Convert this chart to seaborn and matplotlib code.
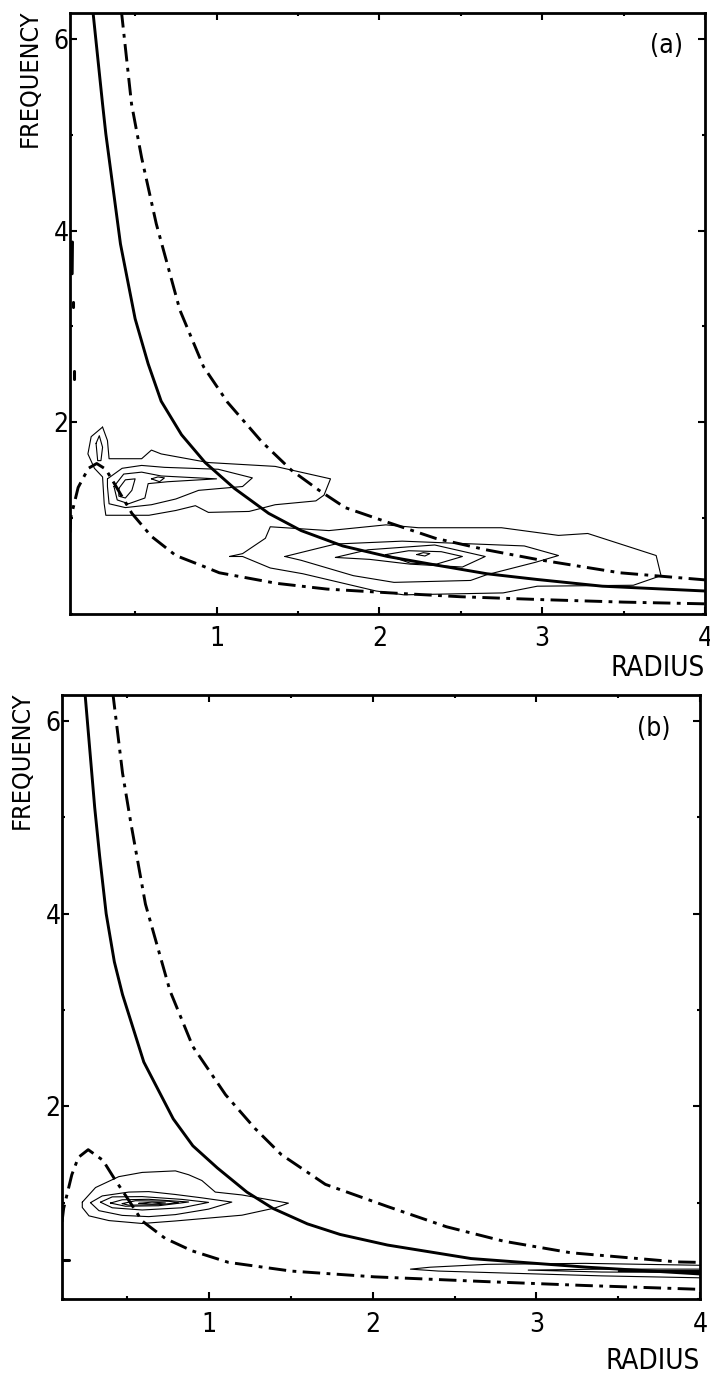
import matplotlib
matplotlib.use("Agg")
import matplotlib.pyplot as plt
from matplotlib import font_manager
from matplotlib.ticker import MultipleLocator
import seaborn as sns
import pandas as pd

# ---- panel (a) curves (radius, frequency) ----
a_solid_r = [0.24, 0.30, 0.32, 0.41, 0.50, 0.58, 0.66, 0.785, 0.93, 1.11, 1.32, 1.52, 1.775, 2.05, 2.35, 2.66, 2.97, 3.37, 4.0]
a_solid_f = [6.3, 5.32, 5.01, 3.86, 3.08, 2.61, 2.22, 1.87, 1.58, 1.31, 1.05, 0.87, 0.71, 0.60, 0.51, 0.42, 0.36, 0.29, 0.24]
a_upper_r = [0.415, 0.478, 0.54, 0.63, 0.775, 0.92, 1.067, 1.276, 1.46, 1.63, 1.79, 2.063, 2.344, 2.655, 2.966, 3.477, 4.0]
a_upper_f = [6.3, 5.32, 4.76, 4.07, 3.17, 2.58, 2.21, 1.80, 1.50, 1.29, 1.11, 0.95, 0.79, 0.67, 0.57, 0.43, 0.356]
a_lower_r = [0.10, 0.104, 0.15, 0.213, 0.264, 0.32, 0.39, 0.48, 0.60, 0.75, 0.916, 1.017, 1.368, 1.678, 2.07, 2.5, 3.0, 3.5, 4.0]
a_lower_f = [0.85, 1.0, 1.32, 1.52, 1.57, 1.51, 1.31, 1.05, 0.81, 0.61, 0.50, 0.43, 0.32, 0.26, 0.22, 0.18, 0.15, 0.124, 0.106]
# stray ink marks along the left axis
a_marks = [[(0.115, 3.88), (0.113, 3.55)], [(0.12, 3.26), (0.12, 3.20)], [(0.125, 2.53), (0.125, 2.45)]]

a_contours = [
    # left group
    [(0.30, 1.95), (0.33, 1.81), (0.34, 1.62), (0.54, 1.62), (0.60, 1.71), (0.66, 1.67), (0.95, 1.58),
     (1.36, 1.54), (1.70, 1.41), (1.66, 1.24), (1.61, 1.18), (1.36, 1.14), (1.20, 1.07), (0.95, 1.06),
     (0.87, 1.13), (0.75, 1.08), (0.585, 1.03), (0.32, 1.03), (0.31, 1.15), (0.30, 1.43), (0.25, 1.52),
     (0.21, 1.67), (0.23, 1.85), (0.30, 1.95)],
    [(0.33, 1.41), (0.42, 1.52), (0.54, 1.55), (0.68, 1.53), (1.01, 1.51), (1.22, 1.42), (1.16, 1.33),
     (0.89, 1.29), (0.75, 1.20), (0.60, 1.14), (0.44, 1.11), (0.34, 1.15), (0.33, 1.33), (0.33, 1.41)],
    [(0.37, 1.33), (0.43, 1.46), (0.54, 1.48), (0.66, 1.44), (1.0, 1.41), (0.70, 1.38), (0.58, 1.36),
     (0.56, 1.21), (0.46, 1.15), (0.39, 1.19), (0.37, 1.33)],
    [(0.40, 1.31), (0.44, 1.40), (0.50, 1.41), (0.48, 1.29), (0.44, 1.21), (0.40, 1.23), (0.40, 1.31)],
    [(0.60, 1.41), (0.64, 1.43), (0.68, 1.42), (0.65, 1.38), (0.60, 1.41)],
    [(0.26, 1.78), (0.28, 1.86), (0.30, 1.74), (0.29, 1.60), (0.27, 1.60), (0.26, 1.78)],
    # right group
    [(1.08, 0.60), (1.16, 0.63), (1.30, 0.79), (1.33, 0.91), (1.69, 0.87), (2.04, 0.93), (2.24, 0.90),
     (2.75, 0.90), (3.10, 0.82), (3.28, 0.84), (3.70, 0.61), (3.73, 0.40), (3.56, 0.30), (2.97, 0.29),
     (2.76, 0.22), (2.15, 0.20), (1.98, 0.24), (1.53, 0.42), (1.33, 0.48), (1.16, 0.60), (1.08, 0.60)],
    [(1.42, 0.60), (1.73, 0.73), (2.14, 0.76), (2.89, 0.71), (3.10, 0.61), (2.96, 0.54), (2.66, 0.41),
     (2.56, 0.35), (2.09, 0.33), (1.84, 0.40), (1.52, 0.56), (1.42, 0.60)],
    [(1.73, 0.59), (1.93, 0.67), (2.34, 0.72), (2.65, 0.60), (2.51, 0.49), (2.19, 0.52), (1.94, 0.57), (1.73, 0.59)],
    [(2.04, 0.62), (2.18, 0.66), (2.38, 0.65), (2.51, 0.60), (2.35, 0.52), (2.19, 0.53), (2.04, 0.62)],
    [(2.23, 0.62), (2.27, 0.64), (2.31, 0.63), (2.28, 0.605), (2.23, 0.62)],
]

# ---- panel (b) ----
b_solid_r = [0.24, 0.27, 0.30, 0.33, 0.37, 0.42, 0.47, 0.60, 0.78, 0.90, 1.05, 1.23, 1.39, 1.60, 1.80, 2.09, 2.6, 3.31, 4.0]
b_solid_f = [6.3, 5.7, 5.1, 4.6, 4.0, 3.5, 3.16, 2.46, 1.87, 1.59, 1.36, 1.11, 0.94, 0.78, 0.67, 0.56, 0.42, 0.33, 0.26]
b_upper_r = [0.41, 0.47, 0.52, 0.61, 0.76, 0.90, 1.10, 1.28, 1.44, 1.71, 2.09, 2.45, 2.80, 3.21, 3.86, 4.0]
b_upper_f = [6.3, 5.46, 4.95, 4.1, 3.2, 2.62, 2.12, 1.77, 1.50, 1.19, 0.96, 0.75, 0.60, 0.48, 0.385, 0.38]
b_lower_r = [0.10, 0.11, 0.16, 0.20, 0.26, 0.35, 0.42, 0.51, 0.59, 0.73, 0.895, 1.118, 1.50, 2.01, 2.70, 3.3, 3.92, 4.0]
b_lower_f = [0.80, 0.94, 1.29, 1.47, 1.55, 1.44, 1.25, 1.02, 0.81, 0.63, 0.50, 0.38, 0.29, 0.23, 0.18, 0.14, 0.105, 0.10]
b_marks = [[(0.10, 0.40), (0.14, 0.40)]]

b_contours = [
    [(0.224, 1.005), (0.305, 1.157), (0.447, 1.27), (0.59, 1.314), (0.793, 1.33), (0.874, 1.29), (0.955, 1.23),
     (1.037, 1.11), (1.2, 1.08), (1.484, 0.995), (1.40, 0.944), (1.2, 0.87), (0.793, 0.81), (0.59, 0.784),
     (0.387, 0.814), (0.265, 0.863), (0.224, 0.95), (0.224, 1.005)],
    [(0.274, 1.00), (0.346, 1.07), (0.508, 1.11), (0.63, 1.115), (0.793, 1.085), (0.955, 1.05), (1.138, 1.006),
     (0.996, 0.933), (0.793, 0.876), (0.63, 0.855), (0.468, 0.868), (0.326, 0.917), (0.274, 1.00)],
    [(0.335, 1.005), (0.407, 1.06), (0.59, 1.063), (0.833, 1.034), (0.996, 1.003), (0.833, 0.947),
     (0.59, 0.924), (0.407, 0.947), (0.335, 1.005)],
    [(0.396, 0.996), (0.468, 1.03), (0.63, 1.035), (0.874, 1.007), (0.69, 0.968), (0.488, 0.963), (0.396, 0.996)],
    [(0.468, 0.99), (0.549, 1.02), (0.752, 1.015), (0.813, 0.999), (0.69, 0.979), (0.508, 0.974), (0.468, 0.99)],
    [(0.57, 0.993), (0.65, 1.006), (0.732, 0.997), (0.65, 0.985), (0.57, 0.993)],
    # thin contours at large radius (open at the right edge)
    [(4.0, 0.35), (3.3, 0.37), (2.7, 0.36), (2.35, 0.33), (2.23, 0.31), (2.4, 0.29), (2.8, 0.27), (3.4, 0.24), (4.0, 0.22)],
    [(4.0, 0.31), (3.4, 0.31), (2.95, 0.30), (3.4, 0.28), (4.0, 0.275)],
    [(4.0, 0.295), (3.6, 0.295), (3.5, 0.29), (3.7, 0.285), (4.0, 0.285)],
]

x_major = [1, 2, 3, 4]
y_major = [2, 4, 6]

sns.set_style("ticks")
fonts = font_manager.fontManager.ttflist
names = {f.name for f in fonts}
condensed = any(f.name == "DejaVu Sans" and f.stretch == "condensed" for f in fonts)
if "Liberation Sans Narrow" in names:
    fam, stretch, fq_size, rad_size = "Liberation Sans Narrow", "normal", 20, 22
elif condensed:
    fam, stretch, fq_size, rad_size = "DejaVu Sans", "condensed", 18, 20
else:
    fam, stretch, fq_size, rad_size = "DejaVu Sans", "normal", 16, 17.5
plt.rcParams["font.family"] = [fam, "DejaVu Sans"]
plt.rcParams["font.stretch"] = stretch
for key in ("text.color", "axes.labelcolor", "xtick.color", "ytick.color", "axes.edgecolor"):
    plt.rcParams[key] = "black"

DASHDOT = (0, (6, 2.2, 1.3, 2.2))


def loops_frame(loops):
    rows = []
    for i, loop in enumerate(loops):
        for r, f in loop:
            rows.append({"r": r, "f": f, "loop": i})
    return pd.DataFrame(rows)


def draw_panel(ax, solid, upper, lower, loops, marks, tag, tag_xy, flabel_x, rlabel_y):
    sns.lineplot(data=loops_frame(loops), x="r", y="f", units="loop", estimator=None,
                 sort=False, color="black", lw=0.8, ax=ax)
    sns.lineplot(data=loops_frame(marks), x="r", y="f", units="loop", estimator=None,
                 sort=False, color="black", lw=2.2, ax=ax)
    sns.lineplot(x=solid[0], y=solid[1], sort=False, estimator=None, color="black", lw=2.1, ax=ax)
    for r, f in (upper, lower):
        sns.lineplot(x=r, y=f, sort=False, estimator=None, color="black", lw=2.1,
                     linestyle=DASHDOT, ax=ax)

    ax.set_xlim(0.1, 4.0)
    ax.set_ylim(0, 6.27)
    ax.set_xticks(x_major)
    ax.set_yticks(y_major)
    ax.xaxis.set_minor_locator(MultipleLocator(0.5))
    ax.yaxis.set_minor_locator(MultipleLocator(1))
    ax.tick_params(which="both", direction="in", top=True, right=True, width=1.5, colors="black")
    ax.tick_params(which="major", length=5, labelsize=19)
    ax.tick_params(which="minor", length=2.5)
    ax.tick_params(axis="x", pad=9)
    ax.tick_params(axis="y", pad=1)
    for s in ax.spines.values():
        s.set_linewidth(2.0)
        s.set_color("black")

    ax.set_ylabel("FREQUENCY", fontsize=fq_size, loc="top")
    ax.yaxis.set_label_coords(flabel_x, 1.006)
    ax.set_xlabel("RADIUS", fontsize=rad_size, loc="right")
    ax.xaxis.set_label_coords(1.0, rlabel_y)
    ax.xaxis.label.set_va("center")
    ax.text(tag_xy[0], tag_xy[1], tag, transform=ax.transAxes, ha="center", va="center", fontsize=19)


fig = plt.figure(figsize=(7.1, 13.76), dpi=100)
ax_a = fig.add_axes([70 / 710, 1 - 614 / 1376, 635 / 710, 601 / 1376])
ax_b = fig.add_axes([62 / 710, 1 - 1299 / 1376, 638 / 710, 604 / 1376])

draw_panel(ax_a, (a_solid_r, a_solid_f), (a_upper_r, a_upper_f), (a_lower_r, a_lower_f),
           a_contours, a_marks, "(a)", (0.939, 0.945), -0.044, -0.09)
draw_panel(ax_b, (b_solid_r, b_solid_f), (b_upper_r, b_upper_f), (b_lower_r, b_lower_f),
           b_contours, b_marks, "(b)", (0.928, 0.944), -0.045, -0.103)

fig.savefig("out.png", dpi=100, facecolor="white")
